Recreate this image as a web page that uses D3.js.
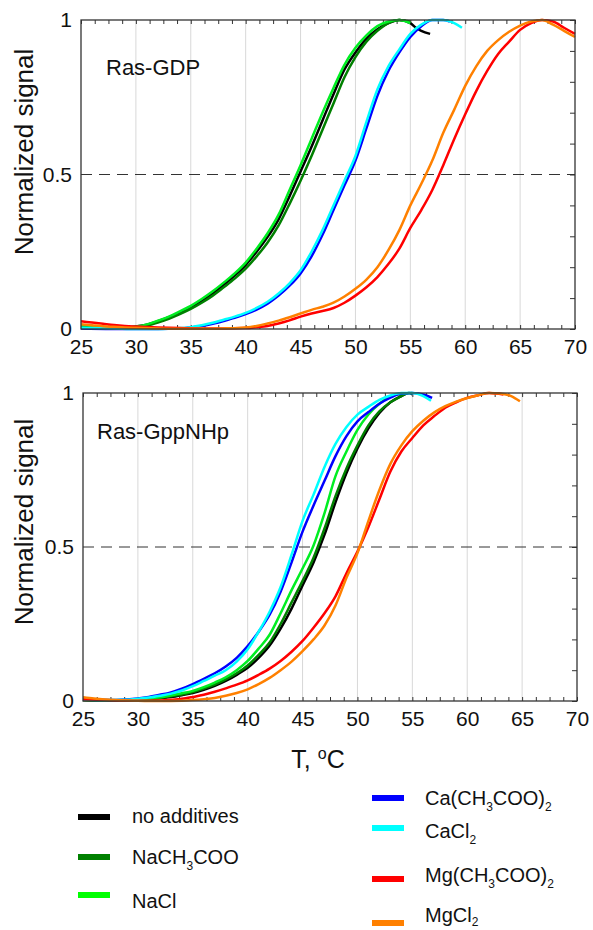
<!DOCTYPE html>
<html><head><meta charset="utf-8">
<script src="https://cdn.jsdelivr.net/npm/d3@7"></script>
<style>
html,body{margin:0;padding:0;background:#fff;}
svg{display:block;font-family:"Liberation Sans",Arial,Helvetica,sans-serif;}
</style></head>
<body>
<svg id="c" width="593" height="930"></svg>
<script>
// ---------- DATA ----------
const xTickLabels = [25,30,35,40,45,50,55,60,65,70];
const yTickLabels = [0,0.5,1];
const panelTitles = ["Ras-GDP","Ras-GppNHp"];
const seriesNames = ["no additives","NaCH3COO","NaCl","Ca(CH3COO)2","CaCl2","Mg(CH3COO)2","MgCl2"];
const seriesColors = ["#000000","#008000","#00ee22","#0000ff","#00ffff","#ff0000","#ff8000"];

// Ras-GDP
const gdpNone = [[25,0.008],[27,0.005],[29,0.004],[30,0.008],[31,0.014],[32,0.025],[33,0.038],[34,0.053],[35,0.07],[36,0.092],[37,0.115],[38,0.143],[39,0.173],[40,0.207],[41,0.25],[42,0.298],[43,0.355],[44,0.43],[45,0.51],[46,0.59],[47,0.675],[48,0.76],[49,0.84],[50,0.895],[51,0.94],[52,0.97],[53,0.99],[54,1.0],[55,0.99],[55.5,0.975],[56,0.965],[56.8,0.955]];
const gdpNaAc = [[25,0.006],[27,0.003],[29,0.003],[30,0.005],[31,0.011],[32,0.021],[33,0.033],[34,0.048],[35,0.065],[36,0.085],[37,0.108],[38,0.135],[39,0.163],[40,0.195],[41,0.235],[42,0.28],[43,0.335],[44,0.405],[45,0.48],[46,0.56],[47,0.645],[48,0.73],[49,0.815],[50,0.88],[51,0.93],[52,0.965],[53,0.99],[54,1.0],[55,0.995]];
const gdpNaCl = [[25,0.012],[26,0.01],[27,0.007],[28,0.005],[29,0.005],[30,0.008],[31,0.015],[32,0.027],[33,0.04],[34,0.057],[35,0.075],[36,0.097],[37,0.122],[38,0.15],[39,0.18],[40,0.215],[41,0.26],[42,0.31],[43,0.37],[44,0.45],[45,0.53],[46,0.615],[47,0.7],[48,0.78],[49,0.855],[50,0.91],[51,0.95],[52,0.98],[53,0.995],[54,1.0],[55,0.99]];
const gdpCaAc = [[25,0.002],[30,0.0],[34,0.002],[35,0.005],[36,0.01],[37,0.017],[38,0.026],[39,0.036],[40,0.048],[41,0.063],[42,0.082],[43,0.108],[44,0.14],[45,0.18],[46,0.235],[47,0.305],[48,0.385],[49,0.465],[50,0.545],[51,0.65],[52,0.755],[53,0.835],[54,0.895],[55,0.945],[56,0.98],[57,1.0],[58,1.0],[58.6,0.995]];
const gdpCaCl = [[25,0.004],[28,0.002],[30,0.0],[32,0.0],[34,0.003],[35,0.006],[36,0.012],[37,0.02],[38,0.03],[39,0.04],[40,0.052],[41,0.068],[42,0.088],[43,0.115],[44,0.148],[45,0.19],[46,0.25],[47,0.32],[48,0.4],[49,0.48],[50,0.56],[51,0.67],[52,0.775],[53,0.85],[54,0.905],[55,0.955],[56,0.985],[57,1.0],[58,1.0],[59,0.99],[59.7,0.975]];
const gdpMgAc = [[25,0.025],[26,0.021],[27,0.017],[28,0.013],[29,0.01],[30,0.008],[32,0.005],[34,0.003],[36,0.002],[38,0.002],[40,0.003],[41,0.006],[42,0.01],[43,0.018],[44,0.028],[45,0.04],[46,0.05],[47,0.058],[48,0.068],[49,0.085],[50,0.108],[51,0.135],[52,0.168],[53,0.21],[54,0.26],[55,0.327],[56,0.385],[57,0.45],[58,0.53],[59,0.615],[60,0.695],[61,0.77],[62,0.835],[63,0.89],[64,0.93],[65,0.968],[66,0.99],[67,1.0],[68,0.995],[69,0.975],[70,0.955]];
const gdpMgCl = [[25,0.015],[26,0.012],[27,0.009],[28,0.007],[29,0.005],[30,0.004],[32,0.002],[34,0.001],[36,0.001],[38,0.002],[40,0.005],[41,0.01],[42,0.018],[43,0.027],[44,0.038],[45,0.05],[46,0.062],[47,0.072],[48,0.085],[49,0.105],[50,0.13],[51,0.16],[52,0.2],[53,0.255],[54,0.32],[55,0.4],[56,0.47],[57,0.545],[58,0.635],[59,0.71],[60,0.787],[61,0.85],[62,0.9],[63,0.935],[64,0.962],[65,0.982],[66,0.995],[67,1.0],[68,0.985],[69,0.965],[70,0.945]];

// Ras-GppNHp
const gppNone = [[25,0.003],[27,0.001],[29,0.002],[30,0.003],[31,0.006],[32,0.009],[33,0.013],[34,0.019],[35,0.026],[36,0.036],[37,0.049],[38,0.065],[39,0.085],[40,0.108],[41,0.14],[42,0.18],[43,0.235],[44,0.3],[45,0.375],[46,0.45],[47,0.54],[48,0.645],[49,0.74],[50,0.82],[51,0.885],[52,0.935],[53,0.97],[54,0.99],[54.7,1.0],[55,0.995]];
const gppNaAc = [[25,0.003],[27,0.001],[29,0.002],[30,0.004],[31,0.007],[32,0.01],[33,0.015],[34,0.021],[35,0.029],[36,0.04],[37,0.053],[38,0.07],[39,0.09],[40,0.115],[41,0.15],[42,0.19],[43,0.25],[44,0.32],[45,0.39],[46,0.465],[47,0.56],[48,0.665],[49,0.755],[50,0.83],[51,0.895],[52,0.94],[53,0.97],[54,0.99],[54.5,1.0]];
const gppNaCl = [[25,0.004],[27,0.002],[29,0.003],[30,0.005],[31,0.008],[32,0.012],[33,0.018],[34,0.025],[35,0.033],[36,0.045],[37,0.06],[38,0.077],[39,0.1],[40,0.13],[41,0.17],[42,0.215],[43,0.285],[44,0.36],[45,0.43],[46,0.505],[47,0.61],[48,0.73],[49,0.81],[50,0.88],[51,0.93],[52,0.965],[53,0.988],[54,0.998],[55,1.0]];
const gppCaAc = [[25,0.005],[27,0.003],[29,0.005],[30,0.008],[31,0.013],[32,0.02],[33,0.028],[34,0.04],[35,0.055],[36,0.072],[37,0.09],[38,0.112],[39,0.14],[40,0.178],[41,0.225],[42,0.28],[43,0.355],[44,0.45],[45,0.55],[46,0.635],[47,0.715],[48,0.795],[49,0.86],[50,0.908],[51,0.938],[52,0.965],[53,0.985],[54,0.998],[55,1.0],[56,0.995],[56.8,0.984]];
const gppCaCl = [[25,0.005],[27,0.003],[29,0.004],[30,0.007],[31,0.011],[32,0.017],[33,0.024],[34,0.034],[35,0.048],[36,0.065],[37,0.082],[38,0.1],[39,0.128],[40,0.168],[41,0.225],[42,0.29],[43,0.37],[44,0.475],[45,0.585],[46,0.67],[47,0.76],[48,0.835],[49,0.89],[50,0.93],[51,0.955],[52,0.978],[53,0.992],[54,1.0],[55,1.0],[56,0.99],[56.7,0.975]];
const gppMgAc = [[25,0.006],[27,0.003],[29,0.001],[30,0.001],[32,0.002],[33,0.004],[34,0.007],[35,0.013],[36,0.02],[37,0.03],[38,0.041],[39,0.053],[40,0.067],[41,0.085],[42,0.105],[43,0.13],[44,0.16],[45,0.195],[46,0.238],[47,0.285],[48,0.34],[49,0.415],[50,0.485],[51,0.565],[52,0.655],[53,0.745],[54,0.81],[55,0.854],[56,0.895],[57,0.925],[58,0.952],[59,0.97],[60,0.984],[61,0.993],[62,1.0],[63.3,0.995]];
const gppMgCl = [[25,0.012],[26,0.008],[27,0.005],[28,0.003],[30,0.001],[32,0.0],[34,0.001],[35,0.003],[36,0.006],[37,0.01],[38,0.017],[39,0.026],[40,0.038],[41,0.055],[42,0.075],[43,0.1],[44,0.128],[45,0.162],[46,0.2],[47,0.245],[48,0.31],[49,0.4],[50,0.48],[51,0.585],[52,0.685],[53,0.77],[54,0.83],[55,0.876],[56,0.91],[57,0.937],[58,0.957],[59,0.972],[60,0.984],[61,0.993],[62,1.0],[63,0.998],[64,0.99],[64.8,0.973]];

const gdpSeries = [gdpNone,gdpNaAc,gdpNaCl,gdpCaAc,gdpCaCl,gdpMgAc,gdpMgCl];
const gppSeries = [gppNone,gppNaAc,gppNaCl,gppCaAc,gppCaCl,gppMgAc,gppMgCl];

// ---------- DRAW ----------
const svg = d3.select("#c");
const FONT = '"Liberation Sans",Arial,Helvetica,sans-serif';

const panels = [
  {title: panelTitles[0], data: gdpSeries, left: 81, right: 575, top: 20, bottom: 329, titleX: 106, titleY: 75, ylabY: 152},
  {title: panelTitles[1], data: gppSeries, left: 83, right: 577, top: 393, bottom: 701, titleX: 97, titleY: 439, ylabY: 522}
];

panels.forEach(p => {
  const x = d3.scaleLinear().domain([25,70]).range([p.left, p.right]);
  const y = d3.scaleLinear().domain([0,1]).range([p.bottom, p.top]);
  const g = svg.append("g");

  // vertical grid
  g.selectAll("line.grid").data(d3.range(30,70,5)).enter().append("line")
    .attr("x1", d=>x(d)).attr("x2", d=>x(d)).attr("y1", p.top).attr("y2", p.bottom)
    .attr("stroke","#d8d8d8").attr("stroke-width",1);

  // dashed half line
  g.append("line").attr("x1", x(25)).attr("x2", x(70)).attr("y1", y(0.5)).attr("y2", y(0.5))
    .attr("stroke","#333").attr("stroke-width",1).attr("stroke-dasharray","11,7");

  // minor ticks (inward)
  const minorX = d3.range(25, 70.001, 1.25);
  const axB = g.append("g").attr("transform",`translate(0,${p.bottom})`)
    .call(d3.axisBottom(x).tickValues(minorX).tickSize(-4).tickFormat(""));
  const axT = g.append("g").attr("transform",`translate(0,${p.top})`)
    .call(d3.axisTop(x).tickValues(minorX).tickSize(-4).tickFormat(""));
  const axR = g.append("g").attr("transform",`translate(${p.right},0)`)
    .call(d3.axisRight(y).tickValues(d3.range(0,1.0001,0.1)).tickSize(-5).tickFormat(""));
  [axB,axT,axR].forEach(a => { a.select(".domain").remove(); a.selectAll("line").attr("stroke","#333"); });

  // tick labels
  const lblX = g.append("g").attr("transform",`translate(0,${p.bottom})`)
    .call(d3.axisBottom(x).tickValues(xTickLabels).tickSize(0).tickPadding(10).tickFormat(d3.format("d")));
  lblX.select(".domain").remove();
  lblX.selectAll("text").attr("font-size",21).attr("font-family",FONT).attr("fill","#111");
  const lblY = g.append("g").attr("transform",`translate(${p.left},0)`)
    .call(d3.axisLeft(y).tickValues(yTickLabels).tickSize(0).tickPadding(9).tickFormat(d => d===0.5 ? "0.5" : d3.format("d")(d)));
  lblY.select(".domain").remove();
  lblY.selectAll("text").attr("font-size",21).attr("font-family",FONT).attr("fill","#111");

  // curves
  const line = d3.line().x(d=>x(d[0])).y(d=>y(d[1])).curve(d3.curveMonotoneX);
  p.data.forEach((s,i) => {
    g.append("path").datum(s).attr("d", line).attr("fill","none")
      .attr("stroke", seriesColors[i]).attr("stroke-width", 2.5).attr("stroke-linejoin","round");
  });

  // frame
  g.append("rect").attr("x",p.left).attr("y",p.top).attr("width",p.right-p.left).attr("height",p.bottom-p.top)
    .attr("fill","none").attr("stroke","#333").attr("stroke-width",1.3);

  // panel title
  g.append("text").attr("x",p.titleX).attr("y",p.titleY).attr("font-size",22).attr("font-family",FONT)
    .attr("fill","#111").text(p.title);

  // y axis title
  g.append("text").attr("transform",`translate(33,${p.ylabY}) rotate(-90)`).attr("text-anchor","middle")
    .attr("font-size",26).attr("font-family",FONT).attr("fill","#111").text("Normalized signal");
});

// x axis title
const xt = svg.append("text").attr("x",318).attr("y",768).attr("text-anchor","middle")
  .attr("font-size",25).attr("font-family",FONT).attr("fill","#111");
xt.append("tspan").text("T, ");
xt.append("tspan").attr("dy",-9).attr("font-size",16).text("o");
xt.append("tspan").attr("dy",9).text("C");

// legend
const legendPos = [
  {sx:78, sy:817, tx:132, ty:823, sub:6},
  {sx:78, sy:857, tx:132, ty:864, sub:6},
  {sx:78, sy:895, tx:132, ty:908, sub:6},
  {sx:372, sy:798, tx:425, ty:805, sub:6},
  {sx:372, sy:828, tx:425, ty:838, sub:6},
  {sx:372, sy:879, tx:425, ty:882, sub:6},
  {sx:372, sy:923, tx:425, ty:922, sub:4}
];
seriesNames.forEach((name,i) => {
  const lp = legendPos[i];
  svg.append("line").attr("x1",lp.sx).attr("x2",lp.sx+32).attr("y1",lp.sy).attr("y2",lp.sy)
    .attr("stroke", seriesColors[i]===("#00ee22") ? "#00ff00" : seriesColors[i]).attr("stroke-width",6);
  const t = svg.append("text").attr("x",lp.tx).attr("y",lp.ty).attr("font-size",20)
    .attr("font-family",FONT).attr("fill","#111");
  const parts = name.match(/\d+|\D+/g);
  let sub = false;
  parts.forEach(part => {
    if (/\d/.test(part)) {
      t.append("tspan").attr("dy",lp.sub).attr("font-size",12).text(part);
      sub = true;
    } else {
      const ts = t.append("tspan").text(part);
      if (sub) { ts.attr("dy",-lp.sub); sub = false; }
    }
  });
});
</script>
</body></html>
